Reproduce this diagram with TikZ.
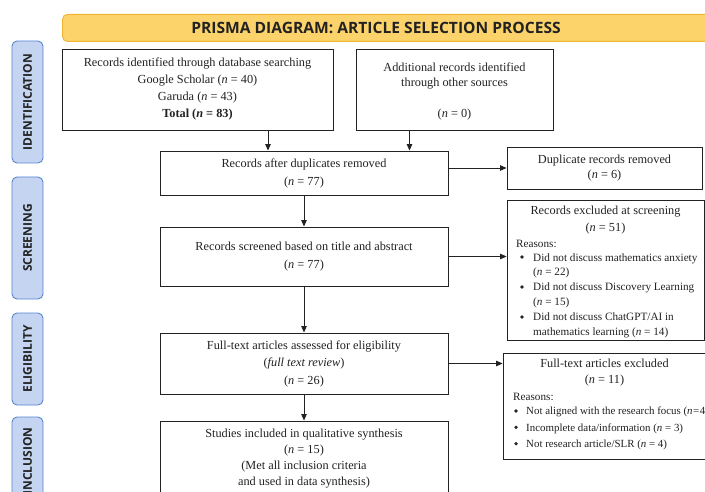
\documentclass[tikz,border=0pt]{standalone}
\usepackage{fontspec}
\setmainfont{Liberation Serif}
\newfontfamily\headfont{Open Sans}
\usetikzlibrary{arrows.meta}
\definecolor{titlefill}{HTML}{FCD36B}
\definecolor{titleline}{HTML}{F0B530}
\definecolor{sidefill}{HTML}{C4D4F1}
\definecolor{sideline}{HTML}{5B87D0}
\definecolor{ink}{HTML}{222222}
\newcommand\myn{\textit{n}}
\begin{document}
\begin{tikzpicture}[x=1pt,y=-1pt,
  box/.style={draw=ink, line width=0.9pt, fill=white, inner sep=0pt},
  txt/.style={font=\fontsize{12.3}{17.5}\selectfont, align=center, text=ink, inner sep=0pt},
  ltxt/.style={font=\fontsize{11.2}{14.8}\selectfont, align=left, text=ink, inner sep=0pt, anchor=west},
  bul/.style={circle, fill=ink, inner sep=0pt, minimum size=3.6pt},
  side/.style={draw=sideline, fill=sidefill, line width=0.9pt, rounded corners=5pt, inner sep=0pt,
    font=\headfont\bfseries\fontsize{12}{13}\selectfont, text=ink, rotate=90},
  arr/.style={draw=ink, line width=0.9pt, -{Triangle[length=6.5pt,width=5.5pt]}}
]
\useasboundingbox (0,0) rectangle (705,492);
\clip (0,0) rectangle (705,492);
\fill[white] (0,0) rectangle (705,492);

% title banner
\node[draw=titleline, fill=titlefill, line width=0.9pt, rounded corners=5pt, inner sep=0pt,
  minimum width=680, minimum height=27, anchor=north west] (title) at (62,14) {};
\node[font=\headfont\bfseries\fontsize{15.6}{18}\selectfont, text=ink, inner sep=0pt] (titletxt) at (376,27.5)
  {PRISMA DIAGRAM: ARTICLE SELECTION PROCESS};

% side labels
\node[side, minimum width=122, minimum height=31] (sid) at (27.5,102) {IDENTIFICATION};
\node[side, minimum width=122, minimum height=31] (sscr) at (27.5,238) {SCREENING};
\node[side, minimum width=92, minimum height=31] (selg) at (27.5,359) {ELIGIBILITY};
\node[side, minimum width=88, minimum height=31] (sinc) at (27.5,461) {INCLUSION};

% main boxes
\node[box, minimum width=271, minimum height=81] (b1) at (197.5,89.5) {};
\node[box, minimum width=197, minimum height=81] (b2) at (454.5,89.5) {};
\node[box, minimum width=288, minimum height=44] (b3) at (304,173) {};
\node[box, minimum width=288, minimum height=59] (b4) at (304,256.5) {};
\node[box, minimum width=288, minimum height=61] (b5) at (304,363.5) {};
\node[box, minimum width=288, minimum height=90] (b6) at (304,466) {};
\node[box, minimum width=195, minimum height=42] (dup) at (604.5,168) {};
\node[box, minimum width=197, minimum height=140] (ex1) at (605.5,270) {};
\node[box, minimum width=217, minimum height=106] (ex2) at (611.5,406) {};

% texts in main boxes
\node[txt, font=\fontsize{12.3}{17.3}\selectfont] (t1) at (197.5,89)
  {Records identified through database searching\\Google Scholar (\myn{} = 40)\\Garuda (\myn{} = 43)\\\textbf{Total (\textit{n} = 83)}};
\node[txt, font=\fontsize{12.3}{15}\selectfont] (t2a) at (454.5,75.5) {Additional records identified\\through other sources};
\node[txt] (t2b) at (454.5,115) {(\myn{} = 0)};
\node[txt, font=\fontsize{12.3}{18}\selectfont] (t3) at (304,173) {Records after duplicates removed\\(\myn{} = 77)};
\node[txt, font=\fontsize{12.3}{18}\selectfont] (t4) at (304,257) {Records screened based on title and abstract\\(\myn{} = 77)};
\node[txt, font=\fontsize{12.3}{17.5}\selectfont] (t5) at (304,363.5) {Full-text articles assessed for eligibility\\(\textit{full text review})\\(\myn{} = 26)};
\node[txt, font=\fontsize{12.3}{16}\selectfont] (t6) at (304,459) {Studies included in qualitative synthesis\\(\myn{} = 15)\\(Met all inclusion criteria\\and used in data synthesis)};

% duplicate box
\node[txt, font=\fontsize{12.3}{15.5}\selectfont] (tdup) at (604.5,168) {Duplicate records removed\\(\myn{} = 6)};

% screening exclusion box
\node[txt, font=\fontsize{12.3}{17}\selectfont] (tex1) at (605.5,220.5) {Records excluded at screening\\(\myn{} = 51)};
\node[ltxt] (r1) at (516,244) {Reasons:};
\node[bul] (r1b1) at (522,257) {};
\node[bul] (r1b2) at (522,287) {};
\node[bul] (r1b3) at (522,317) {};
\node[ltxt] (r1l) at (533,295.5) {Did not discuss mathematics anxiety\\(\myn{} = 22)\\Did not discuss Discovery Learning\\(\myn{} = 15)\\Did not discuss ChatGPT/AI in\\mathematics learning (\myn{} = 14)};

% full-text exclusion box
\node[txt, font=\fontsize{12.3}{16}\selectfont] (tex2) at (604.5,373) {Full-text articles excluded\\(\myn{} = 11)};
\node[ltxt] (r2) at (513,397) {Reasons:};
\node[bul] (r2b1) at (516,411) {};
\node[bul] (r2b2) at (516,427.3) {};
\node[bul] (r2b3) at (516,443.7) {};
\node[ltxt, font=\fontsize{10.9}{16.4}\selectfont] (r2l) at (526,428.5) {Not aligned with the research focus (\myn{}\kern0.5pt=\kern0.5pt4)\\Incomplete data/information (\myn{} = 3)\\Not research article/SLR (\myn{} = 4)};

% connectors
\coordinate (a1) at (268,130);
\coordinate (a2) at (409.5,130);
\draw[arr] (a1) -- (a1 |- b3.north);
\draw[arr] (a2) -- (a2 |- b3.north);
\draw[arr] (b3.south) -- (b4.north);
\draw[arr] (b4.south) -- (b5.north);
\draw[arr] (b5.south) -- (b6.north);
\draw[arr] (b3.east |- dup.west) -- (dup.west);
\draw[arr] (b4.east) -- (b4.east -| ex1.west);
\draw[arr] (b5.east) -- (b5.east -| ex2.west);
\end{tikzpicture}
\end{document}
